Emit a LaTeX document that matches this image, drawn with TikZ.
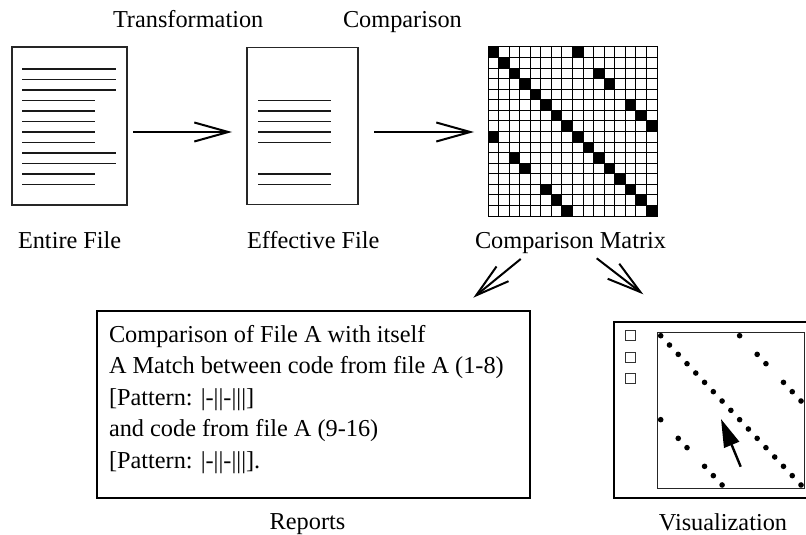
\documentclass[tikz,border=0pt]{standalone}
\usepackage{fontspec}
\setmainfont{Liberation Serif}
\usetikzlibrary{arrows.meta}
\begin{document}
\begin{tikzpicture}[x=1pt,y=-1pt,
  every node/.style={inner sep=0pt,outer sep=0pt},
  lbl/.style={font=\fontsize{24.3}{29}\selectfont},
  page/.style={draw=black!85,line width=1.2pt,anchor=north west},
  txtline/.style={draw=black!90,line width=1.1pt},
  flow/.style={line width=2pt,-{Straight Barb[length=34pt,width=19pt]}},
  cell/.style={fill=black},
  dot/.style={fill=black},
  tick/.style={draw=black!80,line width=0.9pt,minimum size=10pt},
]
\useasboundingbox (0,0) rectangle (806,535);

% --- headings above the arrows
\node[lbl,anchor=base west] (ttrans) at (113,28) {Transformation};
\node[lbl,anchor=base west] (tcomp) at (343,28) {Comparison};

% --- entire file page
\node[page,minimum width=115,minimum height=158] (entire) at (12,47) {};
\foreach \i/\r in {0/116,1/116,2/116,3/95,4/95,5/95,6/95,7/95,8/116,9/116,10/95,11/95}
  \draw[txtline] (22,{69+10.5*\i}) -- (\r,{69+10.5*\i});
\node[lbl,anchor=base west] (lentire) at (18,248) {Entire File};

% --- effective file page
\node[page,minimum width=111,minimum height=157] (effective) at (247,47.5) {};
\foreach \i in {3,4,5,6,7,10,11}
  \draw[txtline] (258,{69+10.5*\i}) -- (331,{69+10.5*\i});
\node[lbl,anchor=base west] (leffective) at (247,248) {Effective File};

% --- comparison matrix (16 x 16)
\def\cs{10.5625}
\node[draw=black,line width=1pt,minimum size=169,anchor=north west] (cmatrix) at (488,47) {};
\foreach \r/\c in {0/0,0/8,1/1,2/2,2/10,3/3,3/11,4/4,5/5,5/13,6/6,6/14,7/7,7/15,
                   8/0,8/8,9/9,10/2,10/10,11/3,11/11,12/12,13/5,13/13,14/6,14/14,15/7,15/15}
  \fill[cell] ({488+\c*\cs},{47+\r*\cs}) rectangle ++(\cs,\cs);
\foreach \k in {1,...,15}{
  \draw[line width=0.9pt] ({488+\k*\cs},47) -- ({488+\k*\cs},216);
  \draw[line width=0.9pt] (488,{47+\k*\cs}) -- (657,{47+\k*\cs});
}
\node[lbl,anchor=base west] (lmatrix) at (475,248) {Comparison Matrix};

% --- arrows between the stages
\coordinate (a1s) at (133,132);
\coordinate (a1e) at (232,132);
\coordinate (a2s) at (374,132);
\coordinate (a2e) at (474,132);
\draw[flow] (a1s) -- (a1e);
\draw[flow] (a2s) -- (a2e);
\coordinate (d1s) at (520.7,259);
\coordinate (d1e) at (473.3,297.7);
\coordinate (d2s) at (596.7,258.3);
\coordinate (d2e) at (643.3,294.3);
\draw[flow] (d1s) -- (d1e);
\draw[flow] (d2s) -- (d2e);

% --- report box
\node[draw=black,line width=1.3pt,minimum width=433,minimum height=187,anchor=north west] (report) at (97,311) {};
\node[lbl,anchor=base west] (rep1) at (109,342) {Comparison of File A with itself};
\node[lbl,anchor=base west] (rep2) at (109,373.5) {A Match between code from file A (1-8)};
\node[lbl,anchor=base west] (rep3) at (109,405) {[Pattern: |-||-|||]};
\node[lbl,anchor=base west] (rep4) at (109,436.5) {and code from file A (9-16)};
\node[lbl,anchor=base west] (rep5) at (109,468) {[Pattern: |-||-|||].};
\node[lbl,anchor=base] (lreport) at (307.5,529) {Reports};

% --- visualization window
\draw[line width=2.4pt] (840,322) -- (614,322) -- (614,498) -- (840,498);
\node[draw=black!85,line width=1pt,minimum width=147,minimum height=156,anchor=north west] (plot) at (657,332) {};
\node[tick] (box1) at (630.3,335.7) {};
\node[tick] (box2) at (630.3,357) {};
\node[tick] (box3) at (630.3,378.3) {};
\foreach \r in {0,...,16}
  \fill[dot] ({660.7+8.77*\r},{335.7+9.33*\r}) circle [radius=2.8pt];
\foreach \r/\c in {0/9,2/11,3/12,5/14,6/15,7/16,9/0,11/2,12/3,14/5,15/6,16/7}
  \fill[dot] ({660.7+8.77*\c},{335.7+9.33*\r}) circle [radius=2.8pt];
\coordinate (ps) at (740.7,466.7);
\coordinate (pe) at (721,419);
\draw[line width=2.4pt,-{Triangle[length=28pt,width=16pt]}] (ps) -- (pe);
\node[lbl,anchor=base] (lvis) at (723,530) {Visualization};
\end{tikzpicture}
\end{document}
